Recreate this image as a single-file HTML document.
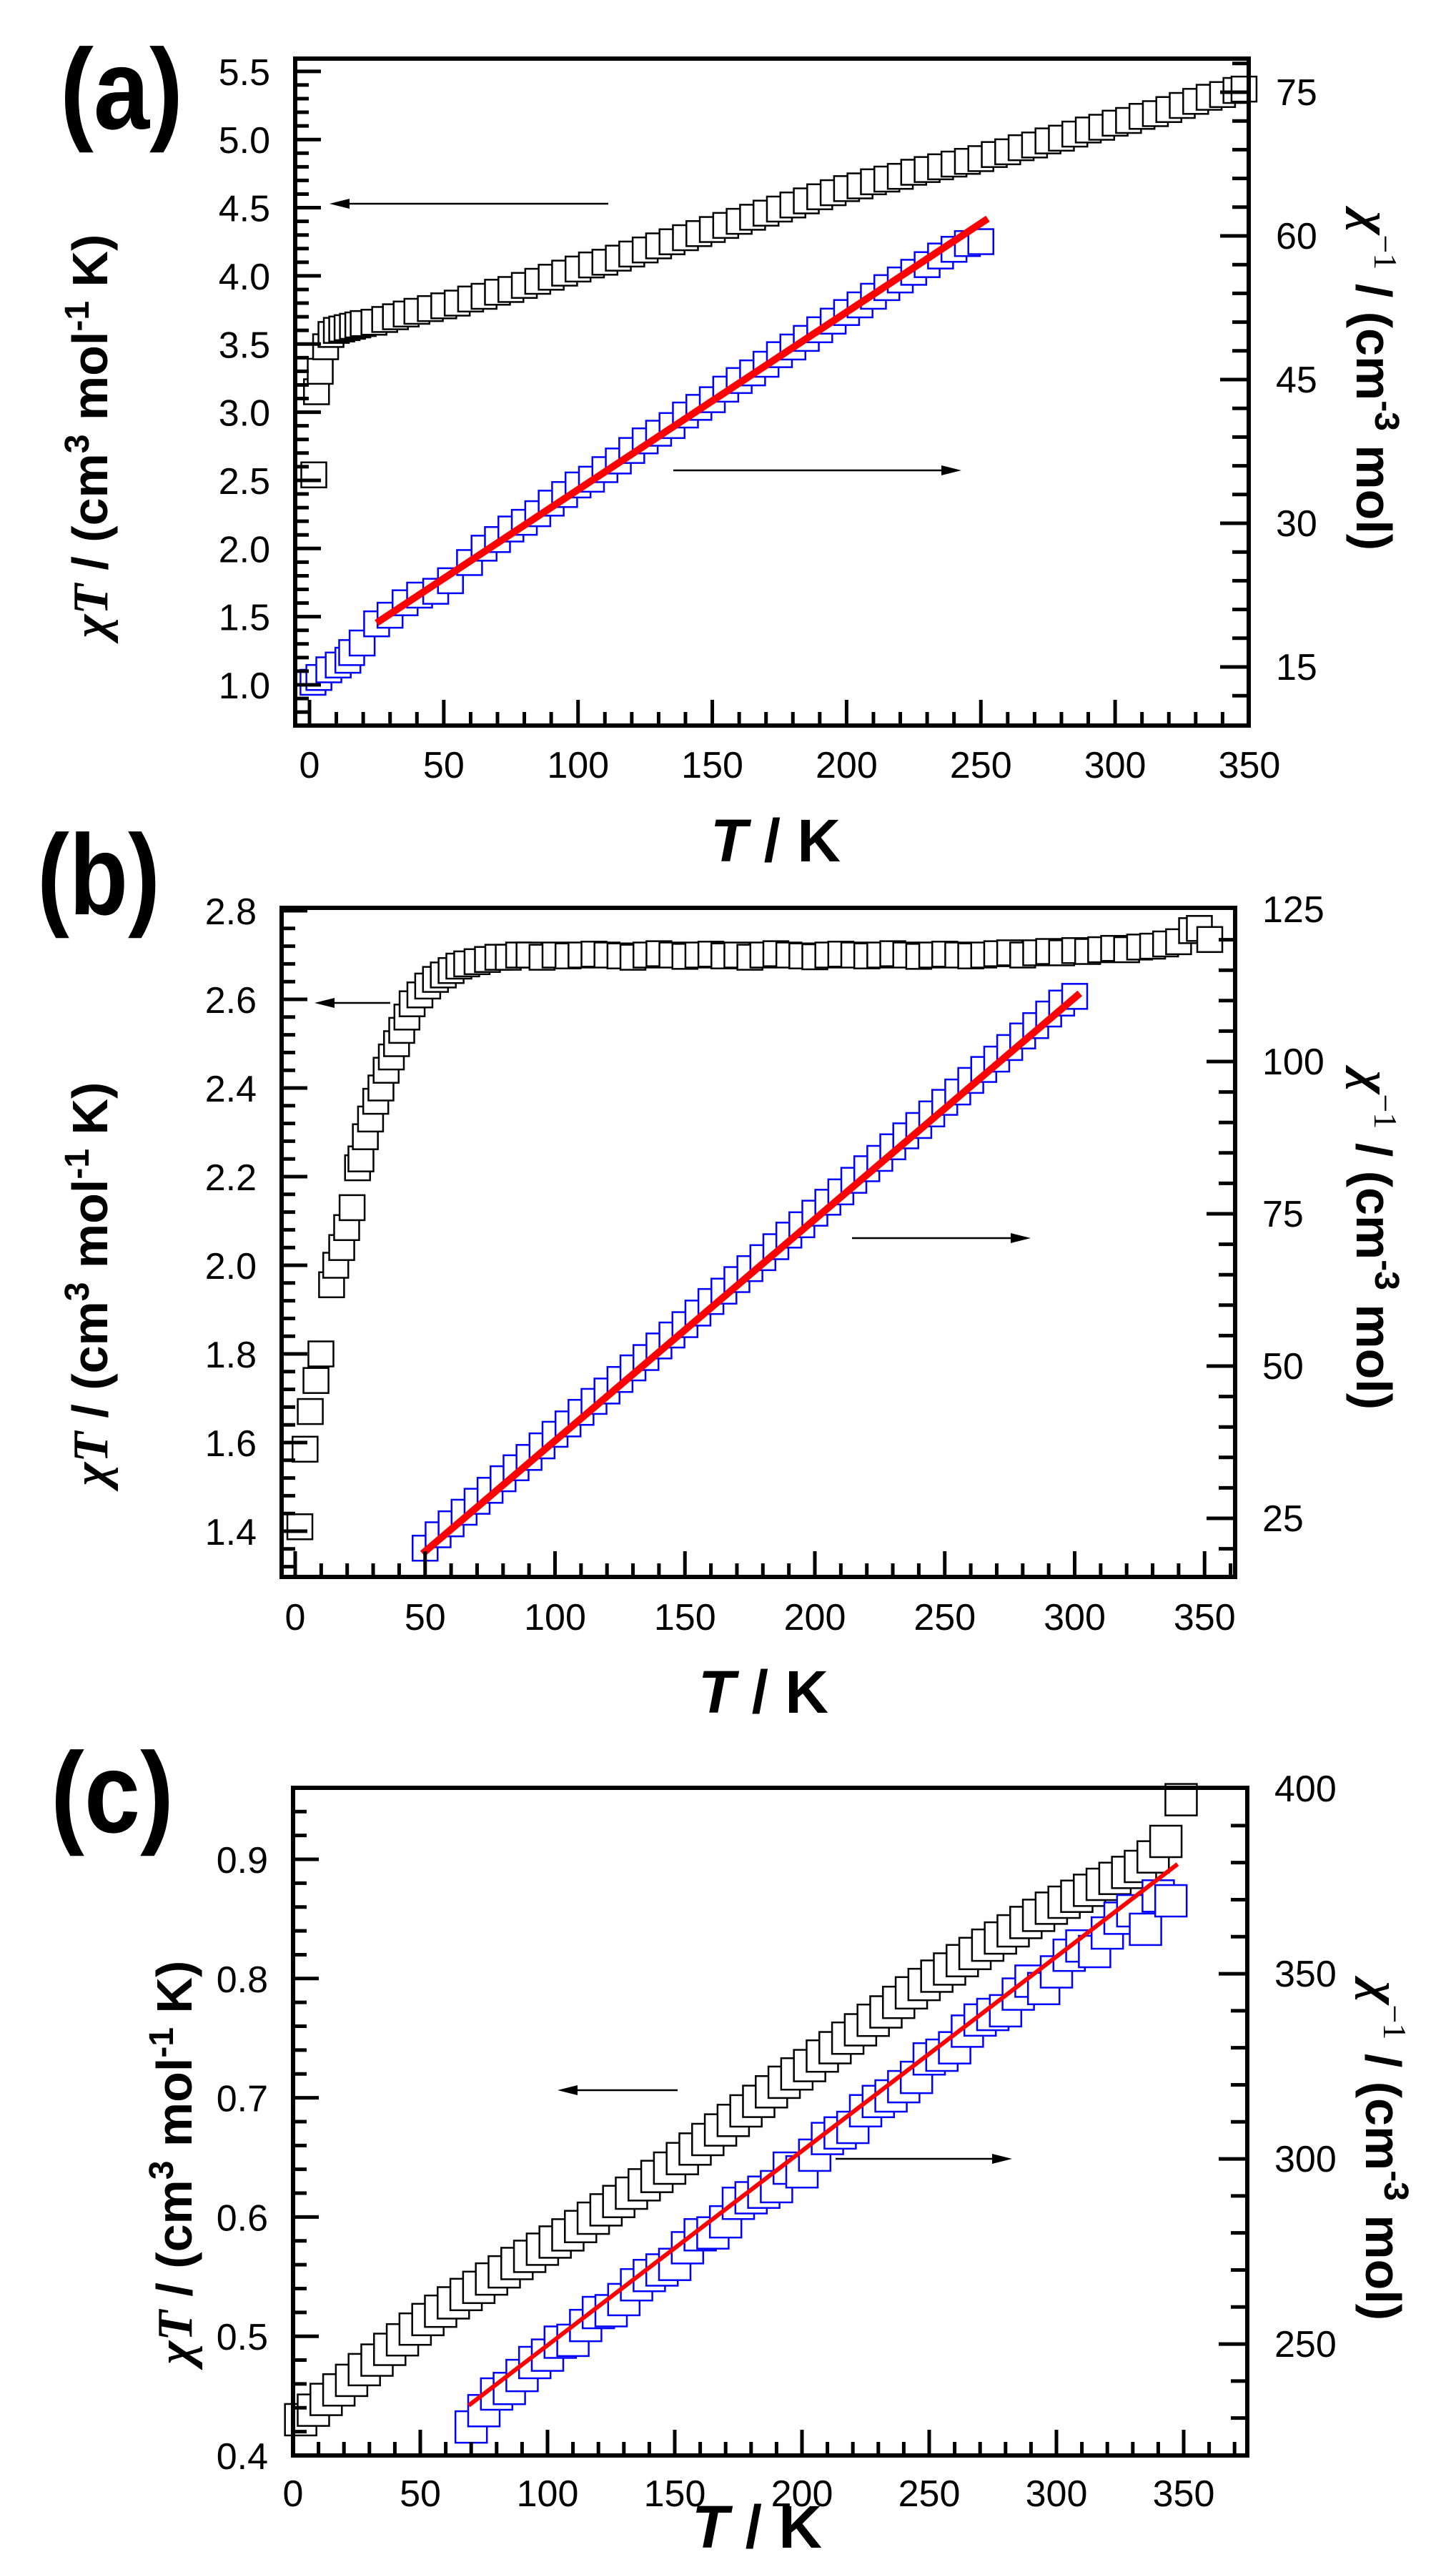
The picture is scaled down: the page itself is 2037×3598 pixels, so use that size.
<!DOCTYPE html>
<html><head><meta charset="utf-8"><style>
html,body{margin:0;padding:0;background:#fff;}
svg{display:block;}
</style></head><body>
<svg id="fig" width="2037" height="3598" viewBox="0 0 2037 3598" xmlns="http://www.w3.org/2000/svg"></svg>
<script>
// ---------- Panel (a) data ----------
const aBlackT=[1.6,2.6,4,6,8,10,12,14,16,18,20,24,28,32,36,40,45,50,55,60,65,70,75,80,85,90,95,100,105,110,115,120,125,130,135,140,145,150,155,160,165,170,175,180,185,190,195,200,205,210,215,220,225,230,235,240,245,250,255,260,265,270,275,280,285,290,295,300,305,310,315,320,325,330,335,340,345,348];
const aBlackV=[2.54,3.15,3.30,3.48,3.57,3.60,3.61,3.62,3.63,3.64,3.65,3.66,3.68,3.70,3.72,3.74,3.76,3.78,3.80,3.83,3.85,3.88,3.90,3.93,3.96,3.99,4.02,4.05,4.08,4.10,4.13,4.16,4.19,4.22,4.25,4.28,4.31,4.34,4.37,4.40,4.43,4.46,4.49,4.52,4.55,4.58,4.61,4.64,4.66,4.69,4.71,4.73,4.76,4.78,4.80,4.82,4.84,4.86,4.89,4.91,4.94,4.96,4.99,5.01,5.04,5.07,5.09,5.12,5.14,5.17,5.19,5.22,5.25,5.28,5.31,5.33,5.36,5.37];
const aBlueT=[1.3,3.5,7.2,10.7,14.3,15.7,19.6,25,30,35.6,41,47,52.5,59.6,65,70,75,80,85,90,95,100,105,110,115,120,125,130,135,140,145,150,155,160,165,170,175,180,185,190,195,200,205,210,215,220,225,230,235,240,245,250];
const aBlueV=[13.4,13.9,14.7,15.2,15.7,16.5,17.5,19.5,20.4,21.7,22.5,22.9,24.0,25.9,27.4,28.3,29.4,30.1,31.0,32.1,33.0,34.0,34.6,35.6,36.5,37.6,38.6,39.4,40.2,41.3,42.1,42.9,44.0,44.9,45.7,46.6,47.6,48.4,49.3,50.2,51.1,52.0,52.8,53.7,54.6,55.4,56.2,57.0,57.9,58.6,59.2,59.4];
const aFitT=[25,252.6];
const aFitV=[19.6,61.8];
const aLeftTicks=["1.0","1.5","2.0","2.5","3.0","3.5","4.0","4.5","5.0","5.5"];
const aRightTicks=["15","30","45","60","75"];
const xTickLabels=["0","50","100","150","200","250","300","350"];

// ---------- Panel (b) data ----------
const bBlackT=[1.8,3.8,5.8,8,9.9,14,15.6,17.9,19.8,21.9,24,25.3,27,29,31,33,35,37,39,41,43,45,48,51,54,57,60,63,66,70,74,78,82,86,90,95,100,105,110,115,120,125,130,135,140,145,150,155,160,165,170,175,180,185,190,195,200,205,210,215,220,225,230,235,240,245,250,255,260,265,270,275,280,285,290,295,300,305,310,315,320,325,330,335,340,345,348,352];
const bBlackV=[1.41,1.585,1.67,1.74,1.80,1.956,2.0,2.04,2.085,2.13,2.22,2.24,2.29,2.33,2.37,2.40,2.44,2.47,2.50,2.53,2.56,2.59,2.61,2.63,2.645,2.655,2.665,2.675,2.68,2.685,2.69,2.695,2.695,2.70,2.70,2.695,2.70,2.698,2.70,2.702,2.70,2.698,2.695,2.70,2.703,2.70,2.697,2.70,2.702,2.698,2.70,2.695,2.70,2.703,2.70,2.698,2.696,2.70,2.702,2.70,2.698,2.70,2.703,2.70,2.697,2.70,2.702,2.70,2.698,2.70,2.703,2.705,2.70,2.705,2.708,2.705,2.71,2.708,2.712,2.715,2.712,2.718,2.72,2.725,2.73,2.755,2.76,2.735];
const bBlueT=[50,55,60,65,70,75,80,85,90,95,100,105,110,115,120,125,130,135,140,145,150,155,160,165,170,175,180,185,190,195,200,205,210,215,220,225,230,235,240,245,250,255,260,265,270,275,280,285,290,295,300];
const bBlueV=[20.1,22.3,24.1,26.0,27.8,29.6,31.5,33.3,35.0,36.9,38.8,40.5,42.4,44.2,45.9,47.8,49.7,51.4,53.3,55.1,56.8,58.7,60.6,62.3,64.2,66.0,67.8,69.6,71.5,73.2,75.1,76.9,78.6,80.5,82.4,84.1,86.0,87.8,89.5,91.4,93.3,95.0,96.9,98.7,100.4,102.3,104.2,105.9,107.8,109.6,110.7];
const bFitT=[49,302];
const bFitV=[19.2,111.2];
const bLeftTicks=["1.4","1.6","1.8","2.0","2.2","2.4","2.6","2.8"];
const bRightTicks=["25","50","75","100","125"];

// ---------- Panel (c) data ----------
const cBlackT=[3,8,13,18,23,28,33,38,43,48,53,58,63,68,73,78,83,88,93,98,103,108,113,118,123,128,133,138,143,148,153,158,163,168,173,178,183,188,193,198,203,208,213,218,223,228,233,238,243,248,253,258,263,268,273,278,283,288,293,298,303,308,313,318,323,328,333,338,343,349];
const cBlackV=[0.430,0.438,0.447,0.455,0.463,0.472,0.480,0.489,0.497,0.506,0.514,0.521,0.528,0.535,0.541,0.548,0.554,0.561,0.567,0.573,0.579,0.585,0.592,0.599,0.606,0.613,0.620,0.627,0.634,0.641,0.649,0.657,0.665,0.673,0.681,0.689,0.697,0.705,0.713,0.720,0.727,0.735,0.742,0.750,0.757,0.765,0.772,0.780,0.788,0.795,0.802,0.808,0.815,0.821,0.828,0.834,0.840,0.847,0.853,0.859,0.864,0.869,0.874,0.879,0.884,0.889,0.894,0.902,0.915,0.950];
const cBlueT=[70,75,80,85,90,95,100,105,110,115,120,125,130,135,140,145,150,155,160,165,170,175,180,185,190,195,200,205,210,215,220,225,230,235,240,245,250,255,260,265,270,275,280,285,290,295,300,305,310,315,320,325,330,335,340,345];
const cBlueV=[227.6,232.0,236.5,238.0,241.5,245.0,247.0,250.5,251.0,255.0,258.5,259.0,262.0,266.0,268.5,270.0,271.5,276.0,279.5,280.0,283.0,288.0,289.5,291.0,292.5,297.5,296.5,301.0,305.5,307.0,308.5,313.0,315.5,317.0,319.5,322.0,327.0,328.0,330.0,334.5,337.5,339.0,340.0,344.5,348.0,346.0,350.5,355.0,357.5,356.0,361.0,365.0,367.0,362.0,371.0,369.7];
const cFitT=[69,347.6];
const cFitV=[233.4,379.6];
const cLeftTicks=["0.4","0.5","0.6","0.7","0.8","0.9"];
const cRightTicks=["250","300","350","400"];

const NS="http://www.w3.org/2000/svg";
const svg=document.getElementById('fig');
function mk(tag,attrs,parent){const e=document.createElementNS(NS,tag);for(const k in attrs)e.setAttribute(k,attrs[k]);(parent||svg).appendChild(e);return e;}

const panels=[
 {id:'a',box:{l:413,r:1747,t:82,b:1015},x0:433,kx:3.757,yl0:958,vl0:1.0,kl:190.7,yr0:933,vr0:15,kr:13.4,
  lMin:0.7,lMax:5.56,lMinor:0.1,lTicks:aLeftTicks,rMin:9,rMax:78,rMinor:3,rTicks:aRightTicks,xMax:350,
  black:[aBlackT,aBlackV],blue:[aBlueT,aBlueV],fit:[aFitT,aFitV],sq:35,fitW:10,
  label:'(a)',labelBase:180,labelX:84,yTitle:{x:150,y:610},rTitle:{x:1898,y:533},xTitle:{x:1085,y:1205},xLabBase:1088,
  arrowL:[851,461,285],arrowR:[942,1345,658]},
 {id:'b',box:{l:394,r:1728,t:1270,b:2206},x0:413,kx:3.635,yl0:1770,vl0:2.0,kl:620,yr0:1485,vr0:100,kr:8.52,
  lMin:1.32,lMax:2.8,lMinor:0.04,lTicks:bLeftTicks,rMin:15,rMax:125,rMinor:5,rTicks:bRightTicks,xMax:360,
  black:[bBlackT,bBlackV],blue:[bBlueT,bBlueV],fit:[bFitT,bFitV],sq:35,fitW:10,
  label:'(b)',labelBase:1279,labelX:52,yTitle:{x:150,y:1796},rTitle:{x:1898,y:1735},xTitle:{x:1068,y:2396},xLabBase:2280,
  arrowL:[546,440,1403],arrowR:[1192,1442,1732]},
 {id:'c',box:{l:410,r:1745,t:2501,b:3435},x0:410,kx:3.56,yl0:3435,vl0:0.4,kl:1668,yr0:3435,vr0:219.9,kr:5.18,
  lMin:0.4,lMax:0.95,lMinor:0.02,lTicks:cLeftTicks,rMin:230,rMax:400,rMinor:10,rTicks:cRightTicks,xMax:370,
  black:[cBlackT,cBlackV],blue:[cBlueT,cBlueV],fit:[cFitT,cFitV],sq:44,fitW:6,
  label:'(c)',labelBase:2563,labelX:71,yTitle:{x:268,y:3025},rTitle:{x:1911,y:3009},xTitle:{x:1059,y:3564},xLabBase:3506,
  arrowL:[948,780,2924],arrowR:[1169,1416,3020]}
];

const TICKFONT='"Liberation Sans Narrow","Liberation Sans",Arial,sans-serif';
panels.forEach(p=>{
  const g=mk('g',{});
  
  
  const X=t=>p.x0+p.kx*t;
  const YL=v=>p.yl0-p.kl*(v-p.vl0);
  const YR=v=>p.yr0-p.kr*(v-p.vr0);
  const B=p.box;

  // data: black squares (chi T)
  const gb=mk('g',{fill:'#fff',stroke:'#000','stroke-width':2.5},g);
  
  
  p.black[0].forEach((t,i)=>{const s=p.sq;const r=mk('rect',{x:X(t)-s/2,y:YL(p.black[1][i])-s/2,width:s,height:s},gb);
    
    });
  // blue squares (1/chi)
  const gu=mk('g',{fill:'#fff',stroke:'#0000ff','stroke-width':2.5},g);
  
  
  p.blue[0].forEach((t,i)=>{const s=p.sq;const r=mk('rect',{x:X(t)-s/2,y:YR(p.blue[1][i])-s/2,width:s,height:s},gu);
    
    });
  // fit line
  const fl=mk('line',{x1:X(p.fit[0][0]),y1:YR(p.fit[1][0]),x2:X(p.fit[0][1]),y2:YR(p.fit[1][1]),stroke:'#ff0000','stroke-width':p.fitW},g);
  
  

  // axes box
  const bx=mk('rect',{x:B.l,y:B.t,width:B.r-B.l,height:B.b-B.t,fill:'none',stroke:'#000','stroke-width':6},g);
  
  

  // left ticks
  const gt=mk('g',{stroke:'#000','stroke-width':5},g);
  
  
  const majL=p.lTicks.map(Number);
  for(let v=p.lMin;v<=p.lMax+1e-9;v+=p.lMinor){
    const vv=Math.round(v*1000)/1000;const maj=majL.some(m=>Math.abs(m-vv)<1e-6);
    const y=YL(vv);if(y<B.t+4||y>B.b-2)continue;
    mk('line',{x1:B.l,x2:B.l+(maj?36:19),y1:y,y2:y},gt);}
  for(let v=p.rMin;v<=p.rMax+1e-9;v+=p.rMinor){
    const maj=p.rTicks.map(Number).includes(v);const y=YR(v);if(y<B.t+4||y>B.b-4)continue;
    mk('line',{x1:B.r,x2:B.r-(maj?40:23),y1:y,y2:y},gt);}
  for(let t=0;t<=p.xMax;t+=10){
    const maj=t%50===0;const x=X(t);if(x>B.r-3)continue;
    mk('line',{x1:x,x2:x,y1:B.b,y2:B.b-(maj?36:19)},gt);}

  // tick labels
  const tf={'font-family':TICKFONT,'font-size':52,fill:'#000'};
  p.lTicks.forEach(s=>{const e=mk('text',Object.assign({x:B.l-35,y:YL(+s)+19,'text-anchor':'end'},tf),g);e.textContent=s;
    
    });
  p.rTicks.forEach(s=>{const e=mk('text',Object.assign({x:B.r+38,y:YR(+s)+18,'text-anchor':'start'},tf),g);e.textContent=s;
    
    });
  xTickLabels.forEach(s=>{const e=mk('text',Object.assign({x:X(+s),y:p.xLabBase,'text-anchor':'middle'},tf),g);e.textContent=s;
    
    });

  // arrows
  [[p.arrowL,'left-arrow'],[p.arrowR,'right-arrow']].forEach(([a,n])=>{
    const [x1,x2,y]=a;const dir=Math.sign(x2-x1);
    const ag=mk('g',{},g);
    
    
    mk('line',{x1:x1,y1:y,x2:x2-dir*20,y2:y,stroke:'#000','stroke-width':2.5},ag);
    mk('polygon',{points:`${x2},${y} ${x2-dir*28},${y-7} ${x2-dir*28},${y+7}`,fill:'#000'},ag);
  });

  // panel label
  const pl=mk('text',{x:p.labelX,y:p.labelBase,'font-family':'"Liberation Sans",Arial,sans-serif','font-size':160,'font-weight':'bold',textLength:172,lengthAdjust:'spacingAndGlyphs'},g);
  pl.textContent=p.label;
  
  

  // left y title
  const yt=mk('text',{transform:`translate(${p.yTitle.x},${p.yTitle.y}) rotate(-90)`,'text-anchor':'middle','font-family':'"Liberation Sans",Arial,sans-serif','font-size':70,'font-weight':'bold'},g);
  
  
  yt.innerHTML='<tspan font-family="Liberation Serif,serif" font-style="italic">χT</tspan> / (cm<tspan baseline-shift="super" font-size="48">3</tspan> mol<tspan baseline-shift="super" font-size="48">-1</tspan> K)';

  // right y title
  const rt=mk('text',{transform:`translate(${p.rTitle.x},${p.rTitle.y}) rotate(90)`,'text-anchor':'middle','font-family':'"Liberation Sans",Arial,sans-serif','font-size':70,'font-weight':'bold'},g);
  
  
  rt.innerHTML='<tspan font-family="Liberation Serif,serif" font-style="italic">χ</tspan><tspan baseline-shift="super" font-size="46" font-weight="normal" font-family="Liberation Serif,serif">−1</tspan> / (cm<tspan baseline-shift="super" font-size="48">-3</tspan> mol)';

  // x title
  const xt=mk('text',{x:p.xTitle.x,y:p.xTitle.y,'text-anchor':'middle','font-family':'"Liberation Sans",Arial,sans-serif','font-size':84,'font-weight':'bold'},g);
  
  
  xt.innerHTML='<tspan font-style="italic">T</tspan> / K';
});
</script>
</body></html>
